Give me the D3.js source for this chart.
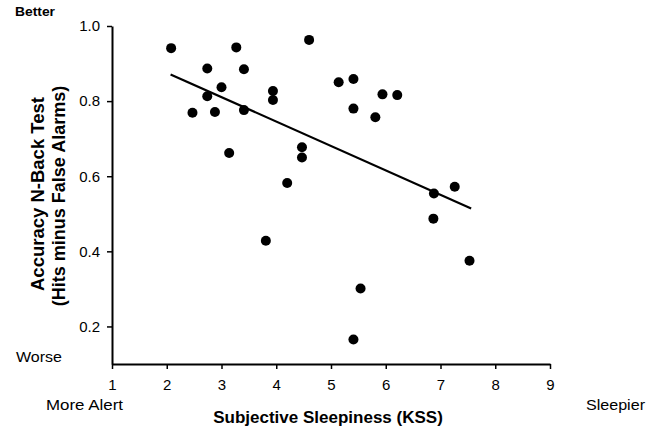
<!DOCTYPE html>
<html>
<head>
<meta charset="utf-8">
<script src="https://cdn.jsdelivr.net/npm/d3@7"></script>
<style>
  body { margin: 0; background: #fff; }
  svg { display: block; }
  text { font-family: "Liberation Sans", Arial, sans-serif; fill: #000; }
</style>
</head>
<body>
<div id="chart"></div>
<script>
// KSS score (x) and N-back accuracy (y)
var sleepiness = [2.08, 3.27, 4.60, 2.74, 3.41, 3.00, 2.74, 2.47, 2.88, 3.41,
  3.94, 3.94, 3.14, 4.47, 4.47, 4.20, 5.14, 5.41, 5.41, 5.81,
  5.94, 6.21, 6.88, 7.26, 6.87, 7.53, 3.81, 5.54, 5.41];
var accuracy = [0.941, 0.943, 0.963, 0.887, 0.885, 0.837, 0.813, 0.769, 0.771, 0.776,
  0.827, 0.803, 0.662, 0.677, 0.650, 0.582, 0.850, 0.859, 0.780, 0.757,
  0.818, 0.816, 0.554, 0.572, 0.487, 0.375, 0.428, 0.301, 0.165];

// fitted line end points
var fitX = [2.07, 7.56];
var fitY = [0.871, 0.514];

var xTicks = [1, 2, 3, 4, 5, 6, 7, 8, 9];
var yTicks = [0.2, 0.4, 0.6, 0.8, 1.0];

var width = 657, height = 429;
var margin = { top: 26, right: 107, bottom: 65, left: 112 };

var svg = d3.select("#chart")
  .append("svg")
  .attr("width", width)
  .attr("height", height);

var x = d3.scaleLinear().domain([1, 9]).range([margin.left, width - margin.right]);
var y = d3.scaleLinear().domain([0.1, 1.0]).range([height - margin.bottom, margin.top]);

// x axis
var xAxis = svg.append("g")
  .attr("transform", "translate(0," + (height - margin.bottom) + ")")
  .call(d3.axisBottom(x).tickValues(xTicks).tickFormat(d3.format("d")).tickSize(5).tickPadding(10).tickSizeOuter(0));
xAxis.select(".domain").attr("stroke-width", 2);
xAxis.selectAll(".tick line").attr("stroke-width", 1.5);
xAxis.selectAll("text").style("font-size", "15px").attr("fill", "#000");

// y axis
var yAxis = svg.append("g")
  .attr("transform", "translate(" + margin.left + ",0)")
  .call(d3.axisLeft(y).tickValues(yTicks).tickFormat(d3.format(".1f")).tickSize(5).tickPadding(7).tickSizeOuter(0));
yAxis.select(".domain").attr("stroke-width", 2);
yAxis.selectAll(".tick line").attr("stroke-width", 1.5);
yAxis.selectAll("text").style("font-size", "15px").attr("fill", "#000");

// regression line
svg.append("line")
  .attr("x1", x(fitX[0])).attr("y1", y(fitY[0]))
  .attr("x2", x(fitX[1])).attr("y2", y(fitY[1]))
  .attr("stroke", "#000")
  .attr("stroke-width", 2.2);

// points
svg.append("g")
  .selectAll("circle")
  .data(sleepiness)
  .enter()
  .append("circle")
  .attr("cx", function (d) { return x(d); })
  .attr("cy", function (d, i) { return y(accuracy[i]); })
  .attr("r", 5)
  .attr("fill", "#000");

// titles
svg.append("text")
  .attr("x", 328)
  .attr("y", 423)
  .attr("text-anchor", "middle")
  .style("font-size", "17px")
  .style("font-weight", "bold")
  .text("Subjective Sleepiness (KSS)");

svg.append("text")
  .attr("transform", "translate(44,194) rotate(-90)")
  .attr("text-anchor", "middle")
  .style("font-size", "18.5px")
  .style("font-weight", "bold")
  .text("Accuracy N-Back Test");

svg.append("text")
  .attr("transform", "translate(65,196) rotate(-90)")
  .attr("text-anchor", "middle")
  .style("font-size", "18px")
  .style("font-weight", "bold")
  .text("(Hits minus False Alarms)");

// end labels
svg.append("text").attr("x", 15).attr("y", 16)
  .attr("textLength", 40).attr("lengthAdjust", "spacingAndGlyphs")
  .style("font-size", "12px").style("font-weight", "bold").text("Better");
svg.append("text").attr("x", 16).attr("y", 362)
  .attr("textLength", 46).attr("lengthAdjust", "spacingAndGlyphs")
  .style("font-size", "15px").text("Worse");
svg.append("text").attr("x", 46).attr("y", 410)
  .attr("textLength", 77).attr("lengthAdjust", "spacingAndGlyphs")
  .style("font-size", "15px").text("More Alert");
svg.append("text").attr("x", 586).attr("y", 410)
  .attr("textLength", 59).attr("lengthAdjust", "spacingAndGlyphs")
  .style("font-size", "15px").text("Sleepier");
</script>
</body>
</html>
